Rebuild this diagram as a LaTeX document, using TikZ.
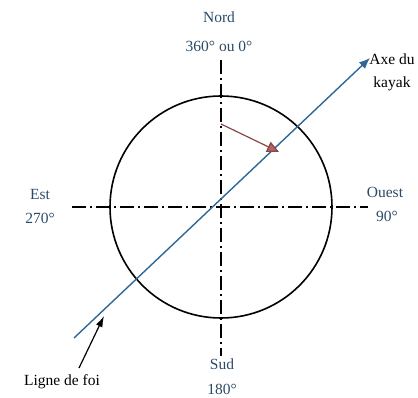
\documentclass[tikz,border=0pt]{standalone}
\usepackage{fontspec}
\setmainfont{Liberation Serif}
\usetikzlibrary{arrows.meta}
\definecolor{lbl}{HTML}{2C4A66}
\definecolor{axeblue}{HTML}{2F6797}
\definecolor{redarr}{HTML}{8A4646}
\definecolor{redfill}{HTML}{B06464}
\tikzset{
  lab/.style={font=\fontsize{15.5}{18}\selectfont, text=lbl, align=center, inner sep=0pt},
  blk/.style={font=\fontsize{15.5}{18}\selectfont, text=black, align=center, inner sep=0pt},
  axis/.style={line width=1.5pt, dash pattern=on 14pt off 4pt on 2pt off 4pt},
}
\begin{document}
\begin{tikzpicture}[x=1pt,y=-1pt]
\useasboundingbox (0,0) rectangle (418,398);
\coordinate (c) at (221,207);
\draw[line width=1.6pt] (c) circle[radius=111];
% axes
\coordinate (ntop) at (221,60);
\coordinate (sbot) at (221,356);
\coordinate (wl) at (72,207);
\coordinate (er) at (368,207);
\draw[axis] (ntop) -- (sbot);
\draw[axis] (wl) -- (er);
% kayak axis
\coordinate (kstart) at (74,338);
\coordinate (ktip) at (370,58);
\draw[axeblue, line width=1.4pt, -{Latex[length=11pt,width=9pt]}] (kstart) -- (ktip);
% heading arrow
\coordinate (hs) at (221,124);
\coordinate (ht) at (279,152);
\draw[redarr, line width=1.2pt, -{Triangle[length=12pt,width=11pt,fill=redfill]}] (hs) -- (ht);
% ligne de foi arrow
\coordinate (ls) at (79,368);
\coordinate (lt) at (104,316);
\draw[black, line width=1.2pt, -{Latex[length=11pt,width=7pt]}] (ls) -- (lt);
% labels
\node[lab] (nord) at (219,17) {Nord};
\node[lab] (nordd) at (219,46) {360° ou 0°};
\node[lab] (est) at (40,195) {Est};
\node[lab] (estd) at (40,218) {270°};
\node[lab] (ouest) at (385,192) {Ouest};
\node[lab] (ouestd) at (387,216) {90°};
\node[lab] (sud) at (222,364) {Sud};
\node[lab] (sudd) at (222,389) {180°};
\node[blk] (axe) at (392,59) {Axe du};
\node[blk] (kay) at (392,84) {kayak};
\node[blk] (foi) at (62,382) {Ligne de foi};
\end{tikzpicture}
\end{document}
